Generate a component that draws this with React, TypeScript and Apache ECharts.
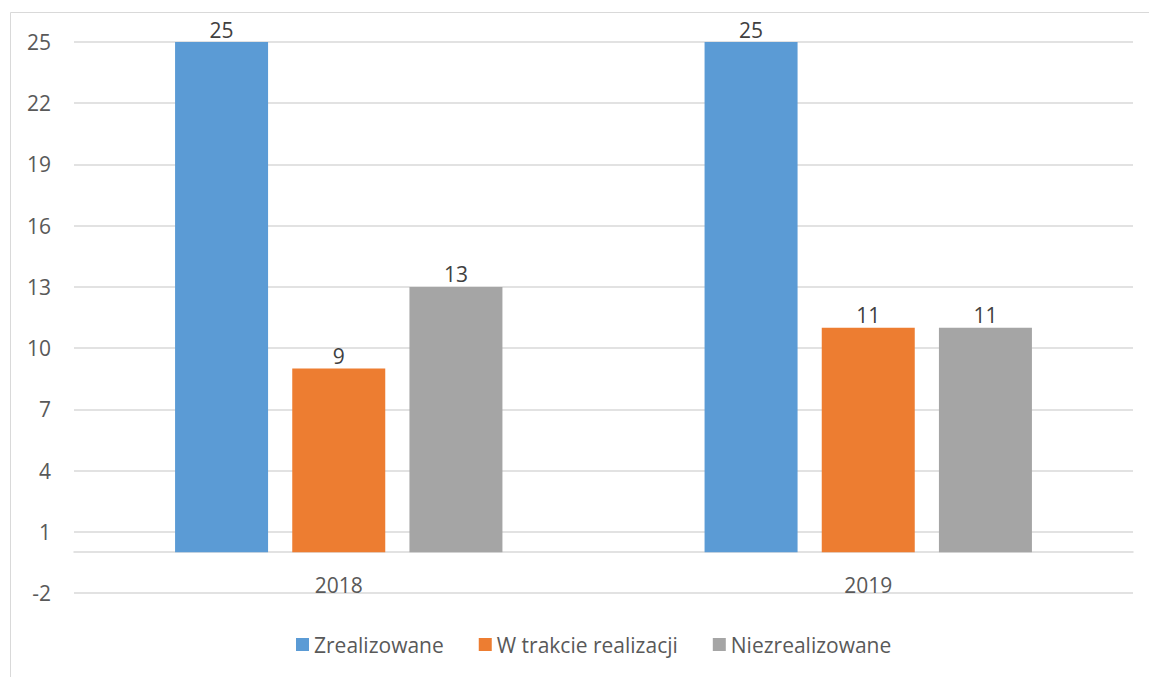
import React, { useEffect, useRef } from "react";
import * as echarts from "echarts";

const categories = ["2018", "2019"];
const seriesNames = ["Zrealizowane", "W trakcie realizacji", "Niezrealizowane"];
const zrealizowane = [25, 25];
const wTrakcie = [9, 11];
const niezrealizowane = [13, 11];
const yTicks = [-2, 1, 4, 7, 10, 13, 16, 19, 22, 25];
const colors = ["#5B9BD5", "#ED7D31", "#A5A5A5"];

const FONT = "'Open Sans', sans-serif";

export default function App() {
  const ref = useRef<HTMLDivElement>(null);
  useEffect(() => {
    if (!ref.current) return;
    const chart = echarts.init(ref.current, null, { renderer: "svg" });
    const values = [zrealizowane, wTrakcie, niezrealizowane];
    chart.setOption({
      animation: false,
      backgroundColor: "#ffffff",
      color: colors,
      textStyle: { fontFamily: FONT },
      grid: { left: 74, right: 16, top: 42, bottom: 84 },
      graphic: [
        {
          type: "rect",
          shape: { x: 10.5, y: 12.5, width: 1200, height: 700 },
          style: { fill: "none", stroke: "#D9D9D9", lineWidth: 1 },
          silent: true,
          z: -10,
        },
      ],
      legend: {
        left: 291,
        top: 629,
        itemWidth: 13,
        itemHeight: 13,
        itemGap: 35,
        icon: "rect",
        data: seriesNames,
        textStyle: { color: "#595959", fontSize: 21, fontFamily: FONT },
      },
      xAxis: {
        type: "category",
        data: categories,
        axisLine: { show: true, lineStyle: { color: "#D9D9D9", width: 1.5 } },
        axisTick: { show: false },
        axisLabel: { color: "#595959", fontSize: 21, fontFamily: FONT, margin: -19 },
      },
      yAxis: {
        type: "value",
        min: -2,
        max: 25,
        axisLine: { show: false },
        axisTick: { show: false, customValues: yTicks },
        axisLabel: {
          color: "#595959",
          fontSize: 21,
          fontFamily: FONT,
          margin: 23,
          customValues: yTicks,
        },
        splitLine: { show: true, lineStyle: { color: "#D9D9D9", width: 1.5 } },
      },
      series: seriesNames.map((name, i) => ({
        name,
        type: "bar",
        data: values[i],
        barWidth: 93,
        barGap: "26%",
        itemStyle: { color: colors[i] },
        label: {
          show: true,
          position: "top",
          distance: 2,
          color: "#404040",
          fontSize: 21,
          fontFamily: FONT,
        },
      })),
    });
    return () => chart.dispose();
  }, []);
  return (
    <div
      ref={ref}
      style={{ position: "absolute", left: 0, top: 0, width: 1149, height: 677 }}
    />
  );
}
